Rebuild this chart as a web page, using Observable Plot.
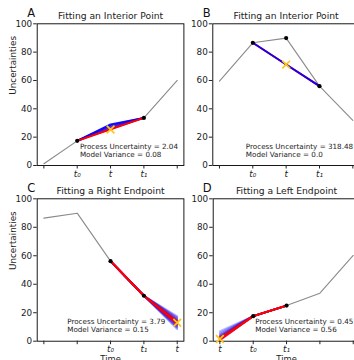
<!DOCTYPE html>
<html>
<head>
<meta charset="utf-8">
<script src="https://cdn.jsdelivr.net/npm/d3@7"></script>
<script src="https://cdn.jsdelivr.net/npm/@observablehq/plot@0.6"></script>
<style>
  html, body { margin: 0; padding: 0; background: #fff; }
  #root { position: relative; width: 354px; height: 360px; overflow: hidden; }
  .panel { position: absolute; width: 190px; height: 180px; }
  .panel svg { overflow: visible; max-width: none !important; width: 190px !important; height: 180px !important; }
</style>
</head>
<body>
<div id="root"></div>
<script>
// ---------- data ----------
const xIndex = [0, 1, 2, 3, 4];
const yTicks = [0, 20, 40, 60, 80, 100];

const titles = ["Fitting an Interior Point", "Fitting an Interior Point", "Fitting a Right Endpoint", "Fitting a Left Endpoint"];
const letters = ["A", "B", "C", "D"];

const tickLabelsA = ["", "t₀", "t", "t₁", ""];
const tickLabelsB = ["", "t₀", "t", "t₁", ""];
const tickLabelsC = ["", "", "t₀", "t₁", "t"];
const tickLabelsD = ["t", "t₀", "t₁", "", ""];

// true series (gray line)
const seriesA = [1.2, 17.4, 25.5, 33.6, 60.0];
const seriesB = [59.5, 86.6, 89.9, 56.0, 31.8];
const seriesC = [86.4, 89.9, 56.2, 31.9, null];
const seriesD = [null, 17.6, 25.0, 33.7, 60.2];

// observed (black) points, by index
const knownA = [1, 3];
const knownB = [1, 2, 3];
const knownC = [2, 3];
const knownD = [1, 2];

// fitted point (yellow x)
const fitA = [2, 25.4];
const fitB = [2, 71.2];
const fitC = [4, 12.9];
const fitD = [0, 1.6];

// fan of candidate values at t, with their weights (1 = most likely) and opacities
const fanValuesA = [29.0, 28.5, 28.0, 27.5, 27.0, 26.5, 26.0, 25.5];
const fanWeightsA = [0.0, 0.02, 0.05, 0.1, 0.15, 0.25, 0.4, 1.0];
const fanOpacityA = [0.9, 0.6, 0.5, 0.45, 0.45, 0.45, 0.5, 1.0];
const fanValuesB = [71.3, 71.3];
const fanWeightsB = [1.0, 0.0];
const fanOpacityB = [1.0, 0.9];
const fanValuesC = [8.5, 17.5, 9.5, 16.5, 10.5, 15.5, 11.5, 14.5, 12.0, 13.8, 12.9];
const fanWeightsC = [0.0, 0.0, 0.05, 0.05, 0.2, 0.2, 0.5, 0.5, 0.8, 0.8, 1.0];
const fanOpacityC = [0.35, 0.35, 0.45, 0.45, 0.55, 0.55, 0.7, 0.7, 0.85, 0.85, 1.0];
const fanValuesD = [7.0, 6.0, 5.0, 4.0, 3.2, 2.5, 0.6, 1.8, 1.2];
const fanWeightsD = [0.0, 0.03, 0.08, 0.18, 0.35, 0.55, 0.75, 0.9, 1.0];
const fanOpacityD = [0.25, 0.3, 0.4, 0.5, 0.6, 0.7, 0.8, 0.9, 1.0];

const uncertainty = ["2.04", "318.48", "3.79", "0.45"];
const variance = ["0.08", "0.0", "0.15", "0.56"];

// ---------- helpers ----------
function fanRows(values, weights, opac, series, fitIndex) {
  const rows = [];
  values.forEach((v, k) => {
    let idxs;
    if (fitIndex === 0) idxs = [0, 1, 2];
    else if (fitIndex === 4) idxs = [2, 3, 4];
    else idxs = [fitIndex - 1, fitIndex, fitIndex + 1];
    for (const i of idxs) {
      rows.push({line: k, x: i, y: i === fitIndex ? v : series[i], w: weights[k], o: opac[k]});
    }
  });
  return rows;
}

const FONT = "DejaVu Sans, sans-serif";

function panel(opts) {
  const {left, top, ml, mt, mb, labels, series, known, fit, fanV, fanW, fanO, title, letter,
         ylabel, xlabel, textX, textY, unc, vari} = opts;
  const width = 190, height = 180;
  const plotW = 146.7;
  const mr = width - ml - plotW;
  const lineData = xIndex.map(i => ({x: i, y: series[i]})).filter(d => d.y != null);
  const knownData = known.map(i => ({x: i, y: series[i]}));
  const fan = fanRows(fanV, fanW, fanO, series, fit[0]);
  const color = w => d3.interpolateRgb("#0000ff", "#ff0000")(w);
  const marks = [
    Plot.frame({stroke: "black", strokeWidth: 0.9}),
    Plot.axisY({ticks: yTicks, tickSize: 3.5, tickPadding: 1.5, fontSize: 8.8, label: null}),
    Plot.axisX({ticks: xIndex, tickSize: 3.5, tickPadding: 1.5, tickFormat: i => labels[i],
                fontSize: 8.8, fontStyle: "italic", label: null}),
    Plot.line(lineData, {x: "x", y: "y", stroke: "#8a8a8a", strokeWidth: 1.1}),
    Plot.line(fan, {x: "x", y: "y", z: "line", stroke: d => color(d.w),
                    strokeOpacity: "o", strokeWidth: 1.9}),
    Plot.dot(knownData, {x: "x", y: "y", r: 2.1, fill: "black", stroke: "none"}),
    Plot.dot([fit], {x: d => d[0], y: d => d[1], symbol: "times", r: 3.6,
                     stroke: "#ffc61a", strokeWidth: 1.7}),
    Plot.text([`Process Uncertainty = ${unc}\nModel Variance = ${vari}`],
              {x: () => textX, y: () => textY, textAnchor: "start", fontSize: 7.2,
               lineHeight: 1.12, fill: "#222"}),
    Plot.text([title], {frameAnchor: "top", lineAnchor: "middle", dy: -7.3, fontSize: 9.2, fill: "#222"}),
    Plot.text([letter], {frameAnchor: "top-left", textAnchor: "middle", lineAnchor: "middle",
                         dx: -6, dy: -10, fontSize: 11.5, fill: "#111"}),
  ];
  if (ylabel) marks.push(Plot.text([ylabel], {frameAnchor: "left", lineAnchor: "middle", dx: -24, rotate: -90, fontSize: 8.8, fill: "#222"}));
  if (xlabel) marks.push(Plot.text([xlabel], {frameAnchor: "bottom", lineAnchor: "top", dy: 14.6, fontSize: 8.4, fill: "#222"}));

  const chart = Plot.plot({
    width, height,
    marginLeft: ml, marginRight: mr, marginTop: mt, marginBottom: mb,
    x: {domain: [-0.2, 4.2]},
    y: {domain: [0, 100]},
    style: {fontFamily: FONT, background: "transparent", overflow: "visible", color: "#222"},
    marks
  });
  const div = document.createElement("div");
  div.className = "panel";
  div.style.left = left + "px";
  div.style.top = top + "px";
  div.appendChild(chart);
  document.getElementById("root").appendChild(div);
}

panel({left: 0, top: 0, ml: 36.7, mt: 23.3, mb: 15, labels: tickLabelsA, series: seriesA,
       known: knownA, fit: fitA, fanV: fanValuesA, fanW: fanWeightsA, fanO: fanOpacityA, title: titles[0], letter: letters[0],
       ylabel: "Uncertainties", xlabel: null, textX: 1.08, textY: 10.6, unc: uncertainty[0], vari: variance[0]});
panel({left: 177, top: 0, ml: 35.3, mt: 23.3, mb: 15, labels: tickLabelsB, series: seriesB,
       known: knownB, fit: fitB, fanV: fanValuesB, fanW: fanWeightsB, fanO: fanOpacityB, title: titles[1], letter: letters[1],
       ylabel: null, xlabel: null, textX: 0.79, textY: 10.8, unc: uncertainty[1], vari: variance[1]});
panel({left: 0, top: 180, ml: 36.7, mt: 18.3, mb: 19.3, labels: tickLabelsC, series: seriesC,
       known: knownC, fit: fitC, fanV: fanValuesC, fanW: fanWeightsC, fanO: fanOpacityC, title: titles[2], letter: letters[2],
       ylabel: "Uncertainties", xlabel: "Time", textX: 0.70, textY: 11.0, unc: uncertainty[2], vari: variance[2]});
panel({left: 177, top: 180, ml: 35.7, mt: 18.3, mb: 19.3, labels: tickLabelsD, series: seriesD,
       known: knownD, fit: fitD, fanV: fanValuesD, fanW: fanWeightsD, fanO: fanOpacityD, title: titles[3], letter: letters[3],
       ylabel: null, xlabel: "Time", textX: 1.06, textY: 11.0, unc: uncertainty[3], vari: variance[3]});
</script>
</body>
</html>
